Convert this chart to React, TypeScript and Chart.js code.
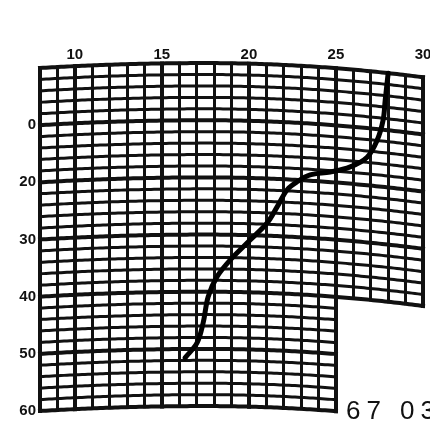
import React, { useEffect, useRef } from "react";
import { Chart, registerables } from "chart.js";

Chart.register(...registerables);

// Temperature (x) vs depth (y) trace
const TEMPS = [28.0, 27.83, 27.71, 27.37, 26.79, 25.82, 24.67, 23.52, 22.77, 22.2, 21.62, 21.05, 20.07, 18.92, 18.17, 17.66, 17.37, 17.02, 16.33];
const DEPTHS = [0.9, 5.6, 9.1, 12.6, 15.6, 17.3, 18.2, 18.7, 19.9, 21.3, 24.3, 27.1, 30.1, 33.6, 36.5, 40.0, 44.6, 48.1, 50.7];

// Axis definitions
const TEMP_MIN = 8;
const TEMP_MAX = 30;
const DEPTH_MIN = 0;
const DEPTH_MAX = 60;
const TEMP_LABELS = [10, 15, 20, 25, 30];
const DEPTH_LABELS: Record<number, string> = { 10: "0", 20: "20", 30: "30", 40: "40", 50: "50", 60: "60" };

// Grid notch (empty lower-right region)
const NOTCH_TEMP = 25;
const NOTCH_DEPTH = 40;
const STAMP = "67 03";

// Paper bow of the printed grid
const BOW_CENTER_TEMP = 17.5;
const BOW_K_LEFT = 0.00018;
const BOW_K_RIGHT = 0.0003;

export default function App() {
  const ref = useRef<HTMLCanvasElement | null>(null);

  useEffect(() => {
    if (!ref.current) return;

    const gridPlugin = {
      id: "bowGrid",
      beforeDatasetsDraw(chart: any) {
        const { ctx } = chart;
        const xs = chart.scales.x;
        const ys = chart.scales.y;
        const left = xs.left;
        const xc = xs.getPixelForValue(BOW_CENTER_TEMP);
        const f = (px: number) => (px < xc ? BOW_K_LEFT : BOW_K_RIGHT) * (px - xc) * (px - xc);
        const bow = (px: number) => f(px) - f(left);
        const xNotch = xs.getPixelForValue(NOTCH_TEMP);

        ctx.save();
        ctx.strokeStyle = "#111";
        ctx.lineCap = "square";

        // horizontal lines
        for (const tk of ys.ticks) {
          const d = tk.value;
          const xEnd = d <= NOTCH_DEPTH ? xs.right : xNotch;
          const y0 = ys.getPixelForValue(d);
          ctx.lineWidth = d % 10 === 0 || d === DEPTH_MIN || d === DEPTH_MAX ? 4 : 3;
          ctx.beginPath();
          for (let px = left; px <= xEnd + 0.01; px += 3) {
            const py = y0 + bow(px);
            if (px === left) ctx.moveTo(px, py);
            else ctx.lineTo(px, py);
          }
          ctx.lineTo(xEnd, y0 + bow(xEnd));
          ctx.stroke();
        }

        // vertical lines
        for (const tk of xs.ticks) {
          const t = tk.value;
          const bold = t % 5 === 0 || t === TEMP_MIN || t === TEMP_MAX;
          const raw = xs.getPixelForValue(t);
          const px = bold ? Math.round(raw) : Math.round(raw - 0.5) + 0.5;
          const dEnd = t <= NOTCH_TEMP ? DEPTH_MAX : NOTCH_DEPTH;
          ctx.lineWidth = bold ? 4 : 3;
          ctx.beginPath();
          ctx.moveTo(px, ys.getPixelForValue(DEPTH_MIN) + bow(raw));
          ctx.lineTo(px, ys.getPixelForValue(dEnd) + bow(raw));
          ctx.stroke();
        }
        ctx.restore();
      },
      afterDraw(chart: any) {
        const { ctx } = chart;
        const xs = chart.scales.x;
        const x0 = xs.getPixelForValue(NOTCH_TEMP);
        ctx.save();
        ctx.fillStyle = "#111";
        ctx.font = '26px "Liberation Sans"';
        (ctx as any).letterSpacing = "6px";
        ctx.textAlign = "left";
        ctx.textBaseline = "alphabetic";
        ctx.fillText(STAMP, x0 + 10, chart.height - 5);
        ctx.restore();
      },
    };

    const chart = new Chart(ref.current, {
      type: "scatter",
      data: {
        datasets: [
          {
            data: TEMPS.map((t, i) => ({ x: t, y: DEPTHS[i] })),
            showLine: true,
            borderColor: "#000",
            borderWidth: 5,
            borderCapStyle: "round",
            borderJoinStyle: "round",
            tension: 0.35,
            pointRadius: 0,
            fill: false,
            clip: false,
          } as any,
        ],
      },
      options: {
        animation: false,
        responsive: true,
        maintainAspectRatio: false,
        layout: { padding: { left: 0, right: 7, top: 0, bottom: 13 } },
        plugins: { legend: { display: false }, tooltip: { enabled: false } },
        scales: {
          x: {
            type: "linear",
            position: "top",
            min: TEMP_MIN,
            max: TEMP_MAX,
            afterBuildTicks(scale: any) {
              const t = [];
              for (let v = TEMP_MIN; v <= TEMP_MAX; v++) t.push({ value: v });
              scale.ticks = t;
            },
            afterFit(scale: any) {
              scale.height = 68;
              scale.paddingLeft = 0;
              scale.paddingRight = 0;
            },
            ticks: {
              autoSkip: false,
              maxRotation: 0,
              padding: 4,
              color: "#111",
              font: { family: "Liberation Sans", size: 15, weight: "bold" },
              callback: (v: any) => (TEMP_LABELS.includes(Number(v)) ? String(v) : ""),
            },
            grid: { display: false, drawTicks: false },
            border: { display: false },
          },
          y: {
            type: "linear",
            reverse: true,
            min: DEPTH_MIN,
            max: DEPTH_MAX,
            afterBuildTicks(scale: any) {
              const t = [];
              for (let v = DEPTH_MIN; v <= DEPTH_MAX; v += 2) t.push({ value: v });
              scale.ticks = t;
            },
            afterFit(scale: any) {
              scale.width = 40;
              scale.paddingTop = 0;
              scale.paddingBottom = 0;
            },
            ticks: {
              autoSkip: false,
              padding: 4,
              color: "#111",
              font: { family: "Liberation Sans", size: 15, weight: "bold" },
              callback: (v: any) => DEPTH_LABELS[Number(v)] ?? "",
            },
            grid: { display: false, drawTicks: false },
            border: { display: false },
          },
        },
      } as any,
      plugins: [gridPlugin],
    });

    return () => chart.destroy();
  }, []);

  return (
    <div style={{ position: "fixed", left: 0, top: 0, width: 430, height: 424, background: "#fff" }}>
      <canvas ref={ref} />
    </div>
  );
}
